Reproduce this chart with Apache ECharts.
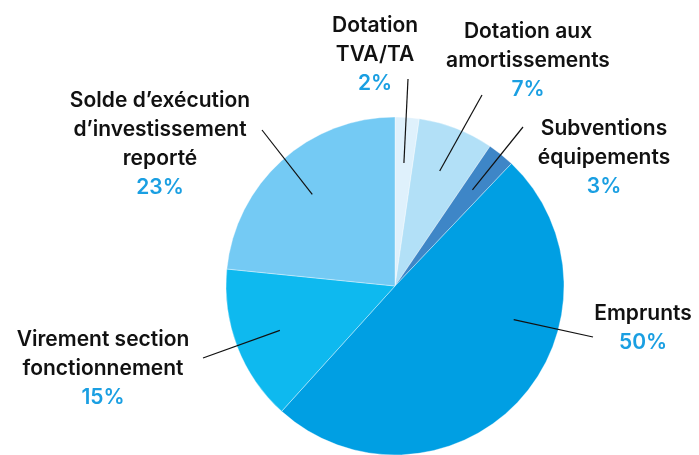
<!DOCTYPE html>
<html>
<head>
<meta charset="utf-8">
<script src="https://cdn.jsdelivr.net/npm/echarts@6/dist/echarts.min.js"></script>
<style>
html, body { margin: 0; padding: 0; background: #fff; }
#chartDiv { width: 699px; height: 455px; }
</style>
</head>
<body>
<div id="chartDiv"></div>
<script>
// slices, clockwise from the top
var categories = ['Dotation\nTVA/TA', 'Dotation aux\namortissements', 'Subventions\néquipements',
	'Emprunts', 'Virement section\nfonctionnement', 'Solde d’exécution\nd’investissement\nreporté'];
var shares = [2.3, 7.2, 2.6, 49.6, 14.9, 23.4];

var colors = ['#dff1fc', '#b2e0f7', '#3e86c7', '#009fe3', '#0eb9ef', '#74caf4'];

// label placement (top-centre of each text block) and leader line ends
var labelBoxes = [[375, 11], [528, 17], [604, 114], [643, 299], [103, 325], [160, 86]];
var lineEnds = [[408, 79], [482, 95], [523, 127], [593, 337], [203, 358], [262, 130]];
var lineStartShift = [0, 0, 0, -27, 0, 0];

var pieCenter = [395, 286];
var pieRadius = 169;

var total = shares.reduce(function (a, b) { return a + b; }, 0);

function midAngle(i) {
	var before = 0;
	for (var k = 0; k < i; k++) before += shares[k];
	return (before + shares[i] / 2) / total * 360;
}

var pieData = categories.map(function (c, i) {
	return { name: c, value: shares[i] };
});

var chart = echarts.init(document.getElementById('chartDiv'));

var option = {
	animation: false,
	color: colors,
	series: [{
		// the coloured slices
		type: 'pie',
		z: 2,
		center: pieCenter,
		radius: [0, pieRadius],
		startAngle: 90,
		clockwise: true,
		label: { show: false },
		labelLine: { show: false },
		itemStyle: {
			borderColor: 'rgba(255,255,255,0.6)',
			borderWidth: 0.6
		},
		emphasis: { disabled: true },
		data: pieData
	}, {
		// same pie, invisible, only carries labels so the leader lines sit above the slices
		type: 'pie',
		z: 5,
		center: pieCenter,
		radius: [0, pieRadius],
		startAngle: 90,
		clockwise: true,
		silent: true,
		avoidLabelOverlap: false,
		itemStyle: { color: 'rgba(0,0,0,0)' },
		label: {
			show: true,
			position: 'outside',
			align: 'center',
			formatter: function (p) {
				var lines = p.name.split('\n').map(function (s) { return '{n|' + s + '}'; });
				return lines.join('\n') + '\n{p|' + Math.round(p.percent) + '%}';
			},
			rich: {
				n: { fontFamily: 'Inter', fontSize: 21, fontWeight: 600, color: '#111', lineHeight: 29, align: 'center' },
				p: { fontFamily: 'Inter', fontSize: 21, fontWeight: 600, color: '#1a9fe2', lineHeight: 29, align: 'center' }
			}
		},
		labelLine: {
			show: true,
			showAbove: true,
			lineStyle: { color: '#111', width: 1.2 }
		},
		labelLayout: function (p) {
			var i = p.dataIndex;
			var a = (midAngle(i) + lineStartShift[i]) * Math.PI / 180;
			var r = pieRadius * 0.73;
			var sx = pieCenter[0] + r * Math.sin(a);
			var sy = pieCenter[1] - r * Math.cos(a);
			return {
				x: labelBoxes[i][0],
				y: labelBoxes[i][1],
				align: 'center',
				verticalAlign: 'top',
				labelLinePoints: [[sx, sy], lineEnds[i], lineEnds[i]]
			};
		},
		emphasis: { disabled: true },
		data: pieData
	}]
};

chart.setOption(option);
</script>
</body>
</html>
